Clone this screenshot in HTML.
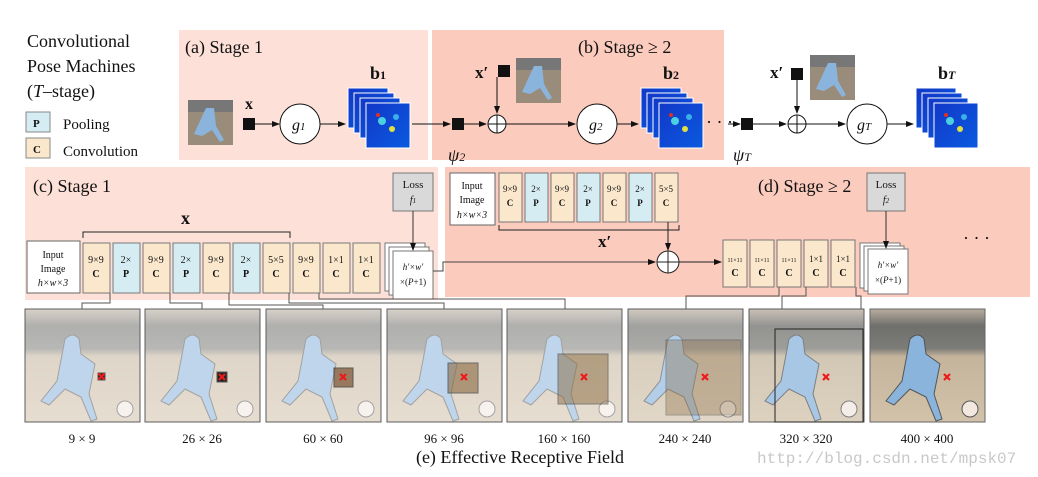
<!DOCTYPE html>
<html><head><meta charset="utf-8"><style>
body{margin:0;background:#fff}
svg{display:block}
text{font-family:"Liberation Serif",serif;fill:#111}
.s{font-size:10px}
</style></head><body>
<svg width="1038" height="477" viewBox="0 0 1038 477" xmlns="http://www.w3.org/2000/svg">
<defs>
<marker id="a" markerWidth="8" markerHeight="8" refX="7" refY="4" orient="auto"><path d="M0,1 L8,4 L0,7z" fill="#111"/></marker>
<linearGradient id="hm" x1="0" y1="0" x2="1" y2="1"><stop offset="0" stop-color="#1238c8"/><stop offset="1" stop-color="#0a5ae0"/></linearGradient>
<linearGradient id="ph" x1="0" y1="0" x2="0" y2="1"><stop offset="0" stop-color="#b9ad9e"/><stop offset="0.15" stop-color="#6f6f6c"/><stop offset="0.35" stop-color="#7c7c78"/><stop offset="0.42" stop-color="#c4b49c"/><stop offset="1" stop-color="#d2c2aa"/></linearGradient>
<g id="img">
<rect width="115" height="113" fill="url(#ph)"/>
<path d="M40,30 q8,-8 14,0 l2,15 l14,10 l-6,30 l8,25 l-6,2 l-10,-24 l-16,-8 l-16,16 l-8,-4 l16,-20 z" fill="#8ab4dc"/>
<circle cx="100" cy="100" r="8" fill="#f2e8e0"/>
</g>
<g id="rx"><path d="M-3,-3L3,3M3,-3L-3,3" stroke="#ee1a1a" stroke-width="2.2"/></g>
<g id="thumb"><rect width="45" height="45" fill="#9a8c7a"/><rect width="45" height="12" fill="#777"/><path d="M18,8 l8,0 l2,18 l8,14 l-4,2 l-8,-12 l-10,6 l-8,-2 z" fill="#8ab4dc"/></g>
<g id="hm1"><rect width="44" height="45" fill="url(#hm)" stroke="#fff"/><circle cx="16" cy="18" r="4" fill="#4ad0e0"/><circle cx="26" cy="26" r="3" fill="#e0e040"/><circle cx="12" cy="12" r="2" fill="#e03020"/><circle cx="30" cy="14" r="3" fill="#3ab0e8"/></g>
<g id="hmap"><rect x="0" y="0" width="40" height="40" fill="url(#hm)" stroke="#fff"/><rect x="6" y="5" width="40" height="40" fill="url(#hm)" stroke="#fff"/><rect x="12" y="10" width="40" height="40" fill="url(#hm)" stroke="#fff"/><use href="#hm1" x="18" y="15"/></g>
</defs>

<text x="27" y="47" font-size="18">Convolutional</text>
<text x="27" y="72" font-size="18">Pose Machines</text>
<text x="27" y="97" font-size="18">(<tspan font-style="italic">T</tspan>–stage)</text>
<rect x="26" y="112" width="24" height="20" fill="#d5ecf3" stroke="#888"/><text x="33" y="127" font-size="11" font-weight="bold">P</text>
<text x="63" y="129" font-size="15">Pooling</text>
<rect x="26" y="138" width="24" height="20" fill="#fbe8cc" stroke="#888"/><text x="33" y="153" font-size="11" font-weight="bold">C</text>
<text x="63" y="156" font-size="15">Convolution</text>

<rect x="179" y="30" width="249" height="130" fill="#fde1d8"/>
<rect x="432" y="30" width="292" height="130" fill="#fbcbbd"/>
<text x="185" y="53" font-size="18">(a) Stage 1</text>
<text x="578" y="53" font-size="18">(b) Stage ≥ 2</text>
<use href="#thumb" x="188" y="100"/>
<text x="245" y="109" font-size="16" font-weight="bold">x</text>
<rect x="243" y="118" width="12" height="12" fill="#111"/>
<line x1="255" y1="124" x2="279" y2="124" stroke="#111" marker-end="url(#a)"/>
<circle cx="300" cy="124" r="20" fill="#fff" stroke="#111"/><text x="292" y="130" font-size="16" font-style="italic">g<tspan font-size="11">1</tspan></text>
<line x1="320" y1="124" x2="345" y2="124" stroke="#111" marker-end="url(#a)"/>
<use href="#hmap" x="348" y="88"/>
<text x="370" y="79" font-size="18" font-weight="bold">b<tspan font-size="12">1</tspan></text>
<line x1="412" y1="124" x2="450" y2="124" stroke="#111" marker-end="url(#a)"/>
<rect x="452" y="118" width="12" height="12" fill="#111"/>
<text x="448" y="161" font-size="18" font-style="italic">ψ<tspan font-size="12">2</tspan></text>
<line x1="464" y1="124" x2="486" y2="124" stroke="#111" marker-end="url(#a)"/>
<circle cx="497" cy="124" r="9" fill="#fff" stroke="#111"/><path d="M488,124h18M497,115v18" stroke="#111"/>
<text x="475" y="78" font-size="17" font-weight="bold">x′</text>
<rect x="498" y="65" width="12" height="12" fill="#111"/>
<line x1="497" y1="77" x2="497" y2="113" stroke="#111" marker-end="url(#a)"/>
<use href="#thumb" x="516" y="58"/>
<line x1="506" y1="124" x2="575" y2="124" stroke="#111" marker-end="url(#a)"/>
<circle cx="597" cy="124" r="20" fill="#fff" stroke="#111"/><text x="589" y="130" font-size="16" font-style="italic">g<tspan font-size="11">2</tspan></text>
<line x1="617" y1="124" x2="638" y2="124" stroke="#111" marker-end="url(#a)"/>
<use href="#hmap" x="641" y="88"/>
<text x="663" y="79" font-size="18" font-weight="bold">b<tspan font-size="12">2</tspan></text>
<text x="706" y="128" font-size="18">· · ·</text>
<line x1="728" y1="124" x2="740" y2="124" stroke="#111" marker-end="url(#a)"/>
<rect x="741" y="118" width="12" height="12" fill="#111"/>
<text x="733" y="161" font-size="18" font-style="italic">ψ<tspan font-size="12">T</tspan></text>
<line x1="753" y1="124" x2="786" y2="124" stroke="#111" marker-end="url(#a)"/>
<circle cx="797" cy="124" r="9" fill="#fff" stroke="#111"/><path d="M788,124h18M797,115v18" stroke="#111"/>
<text x="770" y="78" font-size="17" font-weight="bold">x′</text>
<rect x="791" y="68" width="12" height="12" fill="#111"/>
<line x1="797" y1="80" x2="797" y2="113" stroke="#111" marker-end="url(#a)"/>
<use href="#thumb" x="810" y="55"/>
<line x1="806" y1="124" x2="845" y2="124" stroke="#111" marker-end="url(#a)"/>
<circle cx="867" cy="124" r="20" fill="#fff" stroke="#111"/><text x="857" y="130" font-size="16" font-style="italic">g<tspan font-size="11">T</tspan></text>
<line x1="887" y1="124" x2="913" y2="124" stroke="#111" marker-end="url(#a)"/>
<use href="#hmap" x="916" y="88"/>
<text x="938" y="79" font-size="18" font-weight="bold">b<tspan font-size="12" font-style="italic">T</tspan></text>

<rect x="25" y="167" width="413" height="133" fill="#fde1d8"/>
<text x="33" y="192" font-size="18">(c) Stage 1</text>
<rect x="27" y="241" width="53" height="52" fill="#fff" stroke="#666"/>
<text x="53" y="258" class="s" text-anchor="middle">Input</text><text x="53" y="272" class="s" text-anchor="middle">Image</text><text x="53" y="286" class="s" text-anchor="middle" font-style="italic">h×w×3</text>
<g font-size="10" text-anchor="middle">
<rect x="83" y="243" width="27" height="50" fill="#fbe8cc" stroke="#777"/><text x="96" y="263">9×9</text><text x="96" y="277" font-weight="bold">C</text>
<rect x="113" y="243" width="27" height="50" fill="#d5ecf3" stroke="#777"/><text x="126" y="263">2×</text><text x="126" y="277" font-weight="bold">P</text>
<rect x="143" y="243" width="27" height="50" fill="#fbe8cc" stroke="#777"/><text x="156" y="263">9×9</text><text x="156" y="277" font-weight="bold">C</text>
<rect x="173" y="243" width="27" height="50" fill="#d5ecf3" stroke="#777"/><text x="186" y="263">2×</text><text x="186" y="277" font-weight="bold">P</text>
<rect x="203" y="243" width="27" height="50" fill="#fbe8cc" stroke="#777"/><text x="216" y="263">9×9</text><text x="216" y="277" font-weight="bold">C</text>
<rect x="233" y="243" width="27" height="50" fill="#d5ecf3" stroke="#777"/><text x="246" y="263">2×</text><text x="246" y="277" font-weight="bold">P</text>
<rect x="263" y="243" width="27" height="50" fill="#fbe8cc" stroke="#777"/><text x="276" y="263">5×5</text><text x="276" y="277" font-weight="bold">C</text>
<rect x="293" y="243" width="27" height="50" fill="#fbe8cc" stroke="#777"/><text x="306" y="263">9×9</text><text x="306" y="277" font-weight="bold">C</text>
<rect x="323" y="243" width="27" height="50" fill="#fbe8cc" stroke="#777"/><text x="336" y="263">1×1</text><text x="336" y="277" font-weight="bold">C</text>
<rect x="353" y="243" width="27" height="50" fill="#fbe8cc" stroke="#777"/><text x="366" y="263">1×1</text><text x="366" y="277" font-weight="bold">C</text>
</g>
<path d="M83,238v-6h207v6" fill="none" stroke="#222"/>
<text x="181" y="224" font-size="18" font-weight="bold">x</text>
<rect x="385" y="243" width="40" height="48" fill="#fff" stroke="#777"/><rect x="389" y="247" width="40" height="48" fill="#fff" stroke="#777"/>
<rect x="393" y="251" width="40" height="48" fill="#fff" stroke="#777"/>
<text x="413" y="270" font-size="9" text-anchor="middle" font-style="italic">h′×w′</text><text x="413" y="285" font-size="9" text-anchor="middle">×(<tspan font-style="italic">P</tspan>+1)</text>
<rect x="393" y="173" width="40" height="38" fill="#d9d9d9" stroke="#777"/>
<text x="413" y="188" font-size="11" text-anchor="middle">Loss</text><text x="413" y="203" font-size="10" text-anchor="middle" font-style="italic">f<tspan font-size="7">1</tspan></text>
<line x1="413" y1="211" x2="413" y2="250" stroke="#333" marker-end="url(#a)"/>

<rect x="445" y="167" width="585" height="130" fill="#fbcbbd"/>
<text x="758" y="192" font-size="18">(d) Stage ≥ 2</text>
<rect x="450" y="173" width="45" height="52" fill="#fff" stroke="#666"/>
<text x="472" y="189" class="s" text-anchor="middle">Input</text><text x="472" y="203" class="s" text-anchor="middle">Image</text><text x="472" y="218" class="s" text-anchor="middle" font-style="italic">h×w×3</text>
<g font-size="9" text-anchor="middle">
<rect x="499" y="173" width="23" height="49" fill="#fbe8cc" stroke="#777"/><text x="510" y="192">9×9</text><text x="510" y="206" font-weight="bold">C</text>
<rect x="525" y="173" width="23" height="49" fill="#d5ecf3" stroke="#777"/><text x="536" y="192">2×</text><text x="536" y="206" font-weight="bold">P</text>
<rect x="551" y="173" width="23" height="49" fill="#fbe8cc" stroke="#777"/><text x="562" y="192">9×9</text><text x="562" y="206" font-weight="bold">C</text>
<rect x="577" y="173" width="23" height="49" fill="#d5ecf3" stroke="#777"/><text x="588" y="192">2×</text><text x="588" y="206" font-weight="bold">P</text>
<rect x="603" y="173" width="23" height="49" fill="#fbe8cc" stroke="#777"/><text x="614" y="192">9×9</text><text x="614" y="206" font-weight="bold">C</text>
<rect x="629" y="173" width="23" height="49" fill="#d5ecf3" stroke="#777"/><text x="640" y="192">2×</text><text x="640" y="206" font-weight="bold">P</text>
<rect x="655" y="173" width="23" height="49" fill="#fbe8cc" stroke="#777"/><text x="666" y="192">5×5</text><text x="666" y="206" font-weight="bold">C</text>
</g>
<path d="M499,225v5h180v-5" fill="none" stroke="#222"/>
<text x="598" y="247" font-size="17" font-weight="bold">x′</text>
<line x1="668" y1="222" x2="668" y2="250" stroke="#222" marker-end="url(#a)"/>
<circle cx="668" cy="262" r="11" fill="#fff" stroke="#222"/><path d="M657,262h22M668,251v22" stroke="#222"/>
<path d="M433,271h10v-9h212" fill="none" stroke="#444" marker-end="url(#a)"/>
<line x1="679" y1="262" x2="721" y2="262" stroke="#222" marker-end="url(#a)"/>
<g text-anchor="middle">
<rect x="723" y="240" width="24" height="47" fill="#fbe8cc" stroke="#777"/><text x="735" y="262" font-size="6">11×11</text><text x="735" y="276" font-size="10" font-weight="bold">C</text>
<rect x="750" y="240" width="24" height="47" fill="#fbe8cc" stroke="#777"/><text x="762" y="262" font-size="6">11×11</text><text x="762" y="276" font-size="10" font-weight="bold">C</text>
<rect x="777" y="240" width="24" height="47" fill="#fbe8cc" stroke="#777"/><text x="789" y="262" font-size="6">11×11</text><text x="789" y="276" font-size="10" font-weight="bold">C</text>
<rect x="804" y="240" width="24" height="47" fill="#fbe8cc" stroke="#777"/><text x="816" y="262" font-size="9">1×1</text><text x="816" y="276" font-size="10" font-weight="bold">C</text>
<rect x="831" y="240" width="24" height="47" fill="#fbe8cc" stroke="#777"/><text x="843" y="262" font-size="9">1×1</text><text x="843" y="276" font-size="10" font-weight="bold">C</text>
</g>
<rect x="860" y="243" width="40" height="45" fill="#fff" stroke="#777"/><rect x="864" y="246" width="40" height="45" fill="#fff" stroke="#777"/>
<rect x="868" y="249" width="40" height="45" fill="#fff" stroke="#777"/>
<text x="888" y="268" font-size="9" text-anchor="middle" font-style="italic">h′×w′</text><text x="888" y="283" font-size="9" text-anchor="middle">×(<tspan font-style="italic">P</tspan>+1)</text>
<rect x="867" y="173" width="38" height="38" fill="#d9d9d9" stroke="#777"/>
<text x="886" y="188" font-size="11" text-anchor="middle">Loss</text><text x="886" y="203" font-size="10" text-anchor="middle" font-style="italic">f<tspan font-size="7">2</tspan></text>
<line x1="886" y1="211" x2="886" y2="248" stroke="#333" marker-end="url(#a)"/>
<text x="963" y="244" font-size="18">· · ·</text>

<g fill="none" stroke="#555">
<path d="M110,293v10h-28v6"/>
<path d="M170,293v10h32v6"/>
<path d="M229,293v12h94v4"/>
<path d="M289,293v10h155v6"/>
<path d="M319,293v6h246v10"/>
<path d="M779,287v9h-93v13"/>
<path d="M806,287v9h-24v13"/>
<path d="M856,287v9h5v13"/>
</g>

<g stroke="#555">
<g transform="translate(25,309)"><use href="#img"/><rect width="115" height="113" fill="#fff" opacity="0.45" stroke="#666"/><rect x="73" y="64" width="7" height="7" fill="#222"/><use href="#rx" x="76.5" y="67.5"/></g>
<g transform="translate(145,309)"><use href="#img"/><rect width="115" height="113" fill="#fff" opacity="0.45" stroke="#666"/><rect x="72" y="63" width="10" height="10" fill="#222"/><use href="#rx" x="77" y="68"/></g>
<g transform="translate(266,309)"><use href="#img"/><rect width="115" height="113" fill="#fff" opacity="0.45" stroke="#666"/><rect x="68" y="59" width="19" height="19" fill="#7a5030" opacity="0.7" stroke="#222"/><use href="#rx" x="77" y="68"/></g>
<g transform="translate(387,309)"><use href="#img"/><rect width="115" height="113" fill="#fff" opacity="0.45" stroke="#666"/><rect x="61" y="54" width="30" height="30" fill="#8a6a40" opacity="0.6" stroke="#222"/><use href="#rx" x="77" y="68"/></g>
<g transform="translate(507,309)"><use href="#img"/><rect width="115" height="113" fill="#fff" opacity="0.45" stroke="#666"/><rect x="51" y="45" width="50" height="50" fill="#8a6a40" opacity="0.5" stroke="#222"/><use href="#rx" x="77" y="68"/></g>
<g transform="translate(628,309)"><use href="#img"/><rect width="115" height="113" fill="#fff" opacity="0.35" stroke="#666"/><rect x="38" y="31" width="75" height="75" fill="#8a6a40" opacity="0.35" stroke="#222"/><use href="#rx" x="77" y="68"/></g>
<g transform="translate(749,309)"><use href="#img"/><rect width="115" height="113" fill="#fff" opacity="0.25" stroke="#666"/><rect x="26" y="20" width="88" height="93" fill="none" stroke="#222"/><use href="#rx" x="77" y="68"/></g>
<g transform="translate(870,309)"><use href="#img"/><rect width="115" height="113" fill="none" stroke="#666"/><use href="#rx" x="77" y="68"/></g>
</g>
<g font-size="13" text-anchor="middle">
<text x="82" y="443">9 × 9</text><text x="202" y="443">26 × 26</text><text x="323" y="443">60 × 60</text><text x="444" y="443">96 × 96</text>
<text x="564" y="443">160 × 160</text><text x="685" y="443">240 × 240</text><text x="806" y="443">320 × 320</text><text x="927" y="443">400 × 400</text>
</g>
<text x="520" y="463" font-size="18" text-anchor="middle">(e) Effective Receptive Field</text>
<text x="757" y="463" font-size="16" style="font-family:'Liberation Mono',monospace;fill:#c8c8c8">http://blog.csdn.net/mpsk07</text>
</svg>
</body></html>
